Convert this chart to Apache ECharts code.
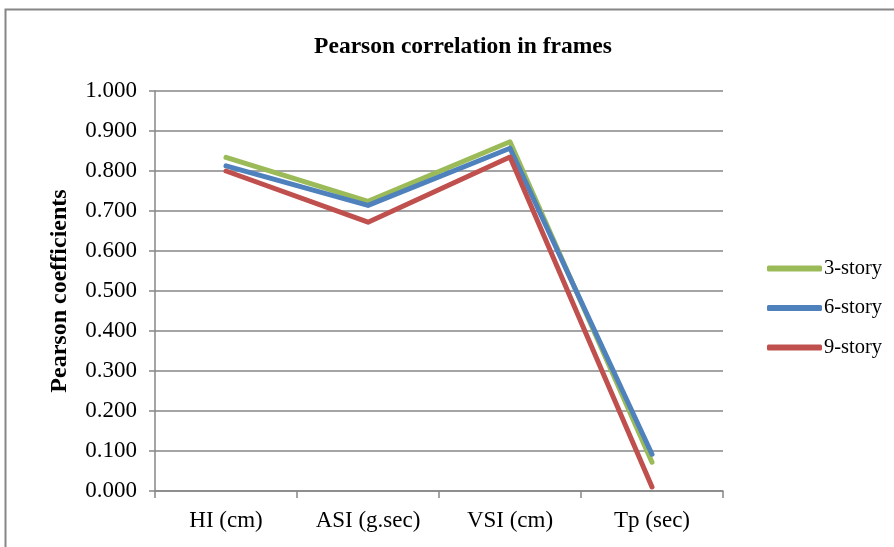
<!DOCTYPE html>
<html><head><meta charset="utf-8">
<script src="https://cdn.jsdelivr.net/npm/echarts@6/dist/echarts.min.js"></script>
<style>html,body{margin:0;padding:0;background:#fff}#c{width:894px;height:547px}</style>
</head><body><div id="c"></div>
<script>
const categories = ['HI (cm)', 'ASI (g.sec)', 'VSI (cm)', 'Tp (sec)'];
const story3 = [0.834, 0.724, 0.873, 0.072];
const story6 = [0.813, 0.714, 0.857, 0.092];
const story9 = [0.800, 0.672, 0.835, 0.010];
const seriesNames = ['3-story', '6-story', '9-story'];
const colors = ['#9bbb59', '#4f81bd', '#c0504d'];
const font = 'Liberation Serif';
const chart = echarts.init(document.getElementById('c'));
const mk = (name, data, color) => ({
  name, type: 'line', data, symbol: 'none', smooth: false,
  lineStyle: { width: 5, color, cap: 'round', join: 'round' }, itemStyle: { color }
});
chart.setOption({
  animation: false,
  title: { text: 'Pearson correlation in frames', left: 458, top: 30, textAlign: 'center',
    textStyle: { fontFamily: font, fontSize: 23.5, fontWeight: 'bold', color: '#000' } },
  graphic: [{ type: 'rect', shape: { x: 5.5, y: 9.5, width: 900, height: 560 },
    style: { fill: 'none', stroke: '#868686', lineWidth: 2 } }],
  legend: { orient: 'vertical', left: 762, top: 253, itemGap: 18.5, itemWidth: 55, itemHeight: 6,
    icon: 'roundRect', data: seriesNames,
    textStyle: { fontFamily: font, fontSize: 20.5, color: '#000', padding: [0, 0, 0, -3] } },
  grid: { left: 155, right: 171, top: 91, bottom: 56, containLabel: false },
  xAxis: { type: 'category', data: categories, boundaryGap: true,
    axisLine: { lineStyle: { color: '#868686', width: 1.5 } },
    axisTick: { show: true, interval: 0, length: 7, lineStyle: { color: '#868686', width: 1.5 } },
    axisLabel: { fontFamily: font, fontSize: 23, color: '#000', margin: 18 } },
  yAxis: { type: 'value', min: 0, max: 1, interval: 0.1,
    name: 'Pearson coefficients', nameLocation: 'middle', nameGap: 83, nameRotate: 90,
    nameTextStyle: { fontFamily: font, fontSize: 24, fontWeight: 'bold', color: '#000' },
    axisLine: { show: true, lineStyle: { color: '#868686', width: 1.5 } },
    axisTick: { show: true, length: 6, lineStyle: { color: '#868686', width: 1.5 } },
    splitLine: { lineStyle: { color: '#868686', width: 1.5 } },
    axisLabel: { fontFamily: font, fontSize: 23, color: '#000', margin: 18,
      formatter: v => v.toFixed(3) } },
  series: [mk(seriesNames[0], story3, colors[0]), mk(seriesNames[1], story6, colors[1]), mk(seriesNames[2], story9, colors[2])]
});
</script></body></html>
